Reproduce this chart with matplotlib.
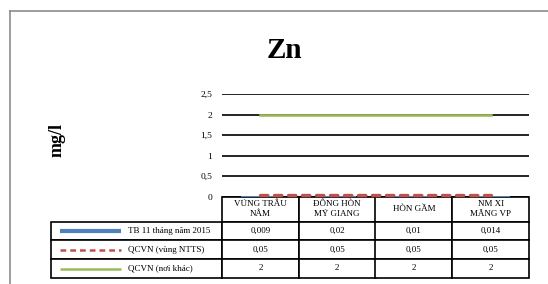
import numpy as np
import matplotlib
matplotlib.use('Agg')
import matplotlib.pyplot as plt
from matplotlib.lines import Line2D

plt.rcParams['font.family'] = ['Liberation Serif', 'DejaVu Serif']

categories = ['VŨNG TRÂU\nNẰM', 'ĐÔNG HÒN\nMỸ GIANG', 'HÒN GẦM', 'NM XI\nMĂNG VP']
tb_2015 = [0.009, 0.02, 0.01, 0.014]
qcvn_ntts = [0.05, 0.05, 0.05, 0.05]
qcvn_other = [2, 2, 2, 2]
series_names = ['TB 11 tháng năm 2015', 'QCVN (vùng NTTS)', 'QCVN (nơi khác)']
y_ticks = [0, 0.5, 1, 1.5, 2, 2.5]

blue = '#4f81bd'
red = '#c0504d'
green = '#9bbb59'


def fmt(v):
    return str(v).replace('.', ',')


fig = plt.figure(figsize=(5.48, 2.84), dpi=100)
W, H = 548, 284

# plot area in pixels
left, right, top, bottom = 222, 529, 94.3, 196.7
ax = fig.add_axes([left / W, 1 - bottom / H, (right - left) / W, (bottom - top) / H])

x = np.arange(len(categories))
ax.bar(x, tb_2015, width=0.5, color=blue, zorder=2)
ax.plot(x, qcvn_ntts, color=red, lw=2.4, dashes=(2.2, 2.0),
        dash_capstyle='round', zorder=3, clip_on=False)
ax.plot(x, qcvn_other, color=green, lw=1.9, zorder=3)

ax.set_xlim(-0.5, len(categories) - 0.5)
ax.set_ylim(0, 2.5)
ax.set_yticks(y_ticks)
ax.set_yticklabels([fmt(t) for t in y_ticks])
ax.set_xticks([])
ax.tick_params(axis='y', length=0, pad=7, labelsize=6.8)
ax.yaxis.grid(True, color='black', lw=1.2)
ax.set_axisbelow(True)
for s in ax.spines.values():
    s.set_visible(False)

# data table under the plot
tbl_left, tbl_bottom = 51, 277.5
ax_h = bottom - top
ax_w = right - left
bx = (tbl_left - left) / ax_w
bw = (right - tbl_left) / ax_w
bh = (tbl_bottom - bottom) / ax_h
cell_text = [[name] + [fmt(v) for v in vals]
             for name, vals in zip(series_names, [tb_2015, qcvn_ntts, qcvn_other])]
legend_w = left - tbl_left
col_w = ax_w / len(categories)
tbl = ax.table(cellText=cell_text, colLabels=[''] + categories,
               colWidths=[legend_w] + [col_w] * len(categories),
               cellLoc='center', bbox=[bx, -bh, bw, bh])
tbl.auto_set_font_size(False)
tbl.set_fontsize(6.5)
head_h, row_h = 25.3, 18.6
for (r, c), cell in tbl.get_celld().items():
    cell.set_linewidth(1.2)
    cell.set_edgecolor('black')
    cell.set_height(head_h if r == 0 else row_h)
    if r == 0:
        cell.get_text().set_linespacing(1.35)
    if r == 0 and c == 0:
        cell.visible_edges = ''
    if c == 0 and r > 0:
        cell.get_text().set_horizontalalignment('left')
        cell.PAD = 0.45

# legend keys inside the first column
key_x0 = (60 - left) / ax_w
key_x1 = (121 - left) / ax_w
styles = [dict(color=blue, lw=3.0, solid_capstyle='butt'),
          dict(color=red, lw=1.8, dashes=(2.3, 1.6), dash_capstyle='butt'),
          dict(color=green, lw=1.8, solid_capstyle='butt')]
for i, st in enumerate(styles):
    yc = bottom + head_h + row_h * (i + 0.5)
    ya = (bottom - yc) / ax_h
    ax.add_line(Line2D([key_x0, key_x1], [ya, ya], transform=ax.transAxes,
                       clip_on=False, **st))

fig.text(284.5 / W, 1 - 58 / H, 'Zn', fontsize=21, fontweight='bold',
         ha='center', va='baseline')
fig.text(57 / W, 1 - 140 / H, 'mg/l', fontsize=13, fontweight='bold',
         rotation=90, ha='center', va='center')

# outer frame (top and left edges visible)
fig.add_artist(Line2D([9.5 / W, 1], [1 - 10.5 / H] * 2, color='#8c8c8c', lw=1.2))
fig.add_artist(Line2D([9.5 / W] * 2, [0, 1 - 10.5 / H], color='#8c8c8c', lw=1.2))

fig.savefig('out.png', dpi=100)
